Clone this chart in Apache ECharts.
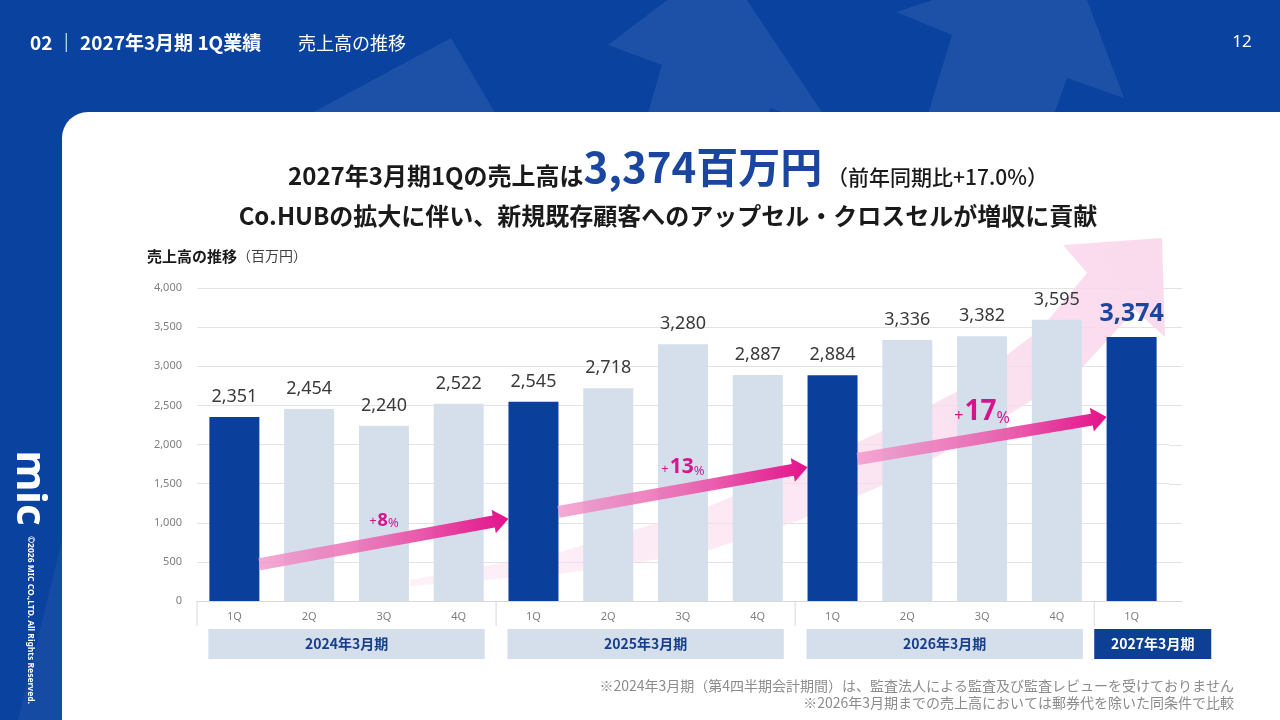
<!DOCTYPE html>
<html>
<head>
<meta charset="utf-8">
<script src="https://cdn.jsdelivr.net/npm/echarts@6/dist/echarts.min.js"></script>
<style>
html,body{margin:0;padding:0;background:#0a42a0;}
#main{width:1280px;height:720px;}
</style>
</head>
<body>
<div id="main"></div>
<script>
// data
var quarters = ['1Q','2Q','3Q','4Q','1Q','2Q','3Q','4Q','1Q','2Q','3Q','4Q','1Q'];
var sales = [2351,2454,2240,2522,2545,2718,3280,2887,2884,3336,3382,3595,3374];
var fiscalYears = ['2024年3月期','2025年3月期','2026年3月期','2027年3月期'];
var yearFirst = [0,4,8,12];
var yearLast = [3,7,11,12];
var growthRates = ['8','13','17'];
var growthFrom = [0,4,8];
var growthTo = [4,8,12];
var yMax = 4000, yStep = 500;

var FONT = '"Noto Sans CJK JP", "Noto Sans", sans-serif';
var NUM = '"Noto Sans", "Noto Sans CJK JP", sans-serif';
var DARK = '#0a3f9c', LIGHT = '#d5dfeb', PINK = '#d4158d', BLUE_BG = '#0a42a0';

function fmt(v){ return v.toLocaleString('en-US'); }

var chart = echarts.init(document.getElementById('main'));

var barData = sales.map(function(v, i){
	var item = { value: v, itemStyle: { color: quarters[i] === '1Q' ? DARK : LIGHT } };
	if (i === sales.length - 1) {
		item.label = { fontSize: 25, fontWeight: 'bold', color: '#1a46a0', distance: 11 };
	}
	return item;
});

var option = {
	backgroundColor: 'transparent',
	animation: false,
	grid: { left: 197, right: 111, top: 288, bottom: 119 },
	xAxis: {
		type: 'category',
		data: quarters,
		axisLine: { lineStyle: { color: '#d9d9d9' } },
		axisTick: { show: false },
		axisLabel: { color: '#7f7f7f', fontSize: 11, fontFamily: NUM, margin: 10 }
	},
	yAxis: {
		type: 'value',
		min: 0, max: yMax, interval: yStep,
		axisLabel: { color: '#7f7f7f', fontSize: 11, fontFamily: NUM, margin: 15, formatter: fmt },
		splitLine: { lineStyle: { color: '#e3e3e3' } }
	},
	series: [{
		type: 'bar',
		data: barData,
		barWidth: 50,
		z: 2,
		label: {
			show: true, position: 'top', distance: 11,
			fontSize: 18, color: '#3a3a3a', fontFamily: NUM,
			formatter: function(p){ return fmt(p.value); }
		}
	}]
};
chart.setOption(option);

// annotation layout
var arrowLevels = [[470,1050],[1140,1710],[1815,2350]];
var growthSizes = [18,21,28];
var gridEndX = 1182;

function px(i, v){ return chart.convertToPixel({ gridIndex: 0 }, [i, v]); }

function arrowPts(p0, p1, bw, hw, hl){
	var dx = p1[0] - p0[0], dy = p1[1] - p0[1];
	var len = Math.sqrt(dx*dx + dy*dy);
	var ux = dx/len, uy = dy/len, nx = -uy, ny = ux;
	var bx = p1[0] - ux*hl, by = p1[1] - uy*hl;
	return [
		[p0[0]+nx*bw, p0[1]+ny*bw], [bx+nx*bw, by+ny*bw], [bx+nx*hw, by+ny*hw],
		[p1[0], p1[1]],
		[bx-nx*hw, by-ny*hw], [bx-nx*bw, by-ny*bw], [p0[0]-nx*bw, p0[1]-ny*bw]
	];
}

var decor = 'rgba(255,255,255,0.08)';
var g = [];
// slide background
g.push({ type: 'rect', z: -10, shape: { x: 0, y: 0, width: 1280, height: 720 }, style: { fill: BLUE_BG } });
g.push({ type: 'polygon', z: -9, shape: { points: [[280,130],[451,38],[505,130]] }, style: { fill: decor } });
g.push({ type: 'polygon', z: -9, shape: { points: [[608,45],[720,-40],[834,130],[770,108],[760,140],[640,140],[662,65]] }, style: { fill: decor } });
g.push({ type: 'polygon', z: -9, shape: { points: [[896,12],[1070,-45],[1124,98],[1067,78],[1045,140],[920,140],[952,35]] }, style: { fill: decor } });
g.push({ type: 'polygon', z: -9, shape: { points: [[62,540],[62,720],[18,720]] }, style: { fill: 'rgba(255,255,255,0.05)' } });
g.push({ type: 'rect', z: -8, shape: { x: 62, y: 112, width: 1218, height: 608, r: [26,0,0,0] }, style: { fill: '#ffffff' } });

// header
g.push({ type: 'text', z: 5, style: { x: 30, y: 43, text: '02 ｜ 2027年3月期 1Q業績', fill: '#fff', fontSize: 19, fontWeight: 'bold', fontFamily: FONT, verticalAlign: 'middle' } });
g.push({ type: 'text', z: 5, style: { x: 298, y: 43, text: '売上高の推移', fill: '#fff', fontSize: 18, fontFamily: FONT, verticalAlign: 'middle' } });
g.push({ type: 'text', z: 5, style: { x: 1242, y: 42, text: '12', fill: '#fff', fontSize: 17, fontFamily: NUM, align: 'center', verticalAlign: 'middle' } });

// left strip logo + copyright
g.push({ type: 'text', z: 5, x: 29, y: 488, rotation: -Math.PI/2, style: { text: 'mic', fill: '#fff', fontSize: 42, fontWeight: 'bold', fontFamily: NUM, align: 'center', verticalAlign: 'middle' } });
g.push({ type: 'text', z: 5, x: 30, y: 620, rotation: -Math.PI/2, style: { text: '©2026 MIC CO.,LTD. All Rights Reserved.', fill: '#fff', fontSize: 8.5, fontWeight: 'bold', fontFamily: NUM, align: 'center', verticalAlign: 'middle' } });

// titles
g.push({ type: 'text', z: 5, style: {
	x: 668, y: 188, align: 'center', verticalAlign: 'bottom',
	text: '{a|2027年3月期1Qの売上高は}{b|3,374百万円}{c| （前年同期比+17.0%）}',
	rich: {
		a: { fontSize: 24, fontWeight: 'bold', fill: '#1a1a1a', fontFamily: FONT, verticalAlign: 'bottom', lineHeight: 44 },
		b: { fontSize: 42, fontWeight: 'bold', fill: '#1a46a0', fontFamily: FONT, verticalAlign: 'bottom', lineHeight: 44 },
		c: { fontSize: 21, fontWeight: 500, fill: '#1a1a1a', fontFamily: FONT, verticalAlign: 'bottom', lineHeight: 44 }
	}
} });
g.push({ type: 'text', z: 5, style: { x: 668, y: 216, text: 'Co.HUBの拡大に伴い、新規既存顧客へのアップセル・クロスセルが増収に貢献', fill: '#1a1a1a', fontSize: 24, fontWeight: 'bold', fontFamily: FONT, align: 'center', verticalAlign: 'middle' } });
g.push({ type: 'text', z: 5, style: {
	x: 147, y: 256, verticalAlign: 'middle',
	text: '{a|売上高の推移}{b|（百万円）}',
	rich: {
		a: { fontSize: 15, fontWeight: 'bold', fill: '#1a1a1a', fontFamily: FONT },
		b: { fontSize: 14, fill: '#404040', fontFamily: FONT }
	}
} });

// footnotes
g.push({ type: 'text', z: 5, style: { x: 1234, y: 686, text: '※2024年3月期（第4四半期会計期間）は、監査法人による監査及び監査レビューを受けておりません', fill: '#8c8c8c', fontSize: 14, fontFamily: FONT, align: 'right', verticalAlign: 'middle' } });
g.push({ type: 'text', z: 5, style: { x: 1234, y: 703, text: '※2026年3月期までの売上高においては郵券代を除いた同条件で比較', fill: '#8c8c8c', fontSize: 14, fontFamily: FONT, align: 'right', verticalAlign: 'middle' } });

// big pale growth arrow behind bars
g.push({ type: 'polygon', z: 1, shape: { points: [
	[410,580],[560,552],[700,510],[800,468],[880,432],[960,390],[1040,330],[1087,273],
	[1063,245],[1162,238],[1165,337],[1135,310],
	[1080,370],[1000,420],[900,478],[800,520],[700,553],[560,574],[410,586]
] }, style: { fill: new echarts.graphic.LinearGradient(0, 1, 1, 0, [
	{ offset: 0, color: 'rgba(250,220,238,0.4)' },
	{ offset: 1, color: 'rgba(250,216,236,0.95)' }
]) } });

// gridline / axis extension past the last category
var gridRight = px(sales.length - 1, 0)[0];
var p0 = px(0, 0), p1 = px(1, 0);
var band = p1[0] - p0[0];
gridRight += band/2;
for (var v = 0; v <= yMax; v += yStep) {
	var yy = Math.round(px(0, v)[1]) + 0.5;
	g.push({ type: 'line', z: 0, shape: { x1: gridRight, y1: yy, x2: gridEndX, y2: yy }, style: { stroke: v === 0 ? '#d9d9d9' : '#e3e3e3', lineWidth: 1 } });
}

// axis group separators and fiscal year boxes
var axisY = p0[1];
for (var k = 0; k < fiscalYears.length; k++) {
	var xs = px(yearFirst[k], 0)[0] - band/2;
	g.push({ type: 'line', z: 3, shape: { x1: xs, y1: axisY, x2: xs, y2: axisY + 25 }, style: { stroke: '#d9d9d9', lineWidth: 1 } });
	var last = k === fiscalYears.length - 1;
	var bx0 = last ? xs : px(yearFirst[k], 0)[0] - 26;
	var bx1 = last ? xs + 117 : px(yearLast[k], 0)[0] + 26;
	g.push({ type: 'rect', z: 3, shape: { x: bx0, y: axisY + 28, width: bx1 - bx0, height: 30 }, style: { fill: last ? '#0d3f94' : LIGHT } });
	g.push({ type: 'text', z: 4, style: { x: (bx0 + bx1)/2, y: axisY + 43, text: fiscalYears[k], fill: last ? '#fff' : '#163f8c', fontSize: 14, fontWeight: 'bold', fontFamily: FONT, align: 'center', verticalAlign: 'middle' } });
}

// growth arrows
for (var a = 0; a < growthRates.length; a++) {
	var s = px(growthFrom[a], arrowLevels[a][0]);
	var e = px(growthTo[a], arrowLevels[a][1]);
	s = [s[0] + 25, s[1]];
	e = [e[0] - 25, e[1]];
	g.push({ type: 'polygon', z: 5, shape: { points: arrowPts(s, e, 6, 12, 15) }, style: { fill: new echarts.graphic.LinearGradient(0, 0, 1, 0, [
		{ offset: 0, color: 'rgba(242,150,202,0.8)' },
		{ offset: 0.5, color: 'rgba(234,100,176,0.9)' },
		{ offset: 1, color: '#e3128a' }
	]) } });
	var fs = growthSizes[a], small = a === 2 ? 16 : 13;
	g.push({ type: 'text', z: 6, style: {
		x: (s[0] + e[0])/2, y: (s[1] + e[1])/2 - 12, align: 'center', verticalAlign: 'bottom',
		text: '{p|+}{n|' + growthRates[a] + '}{q|%}',
		rich: {
			p: { fontSize: small, fill: PINK, fontFamily: NUM, verticalAlign: 'bottom', lineHeight: fs, padding: [0, 1, 2, 0] },
			n: { fontSize: fs, fontWeight: 'bold', fill: PINK, fontFamily: NUM, verticalAlign: 'bottom', lineHeight: fs },
			q: { fontSize: small, fill: PINK, fontFamily: NUM, verticalAlign: 'bottom', lineHeight: fs }
		}
	} });
}

chart.setOption({ graphic: g });
</script>
</body>
</html>
